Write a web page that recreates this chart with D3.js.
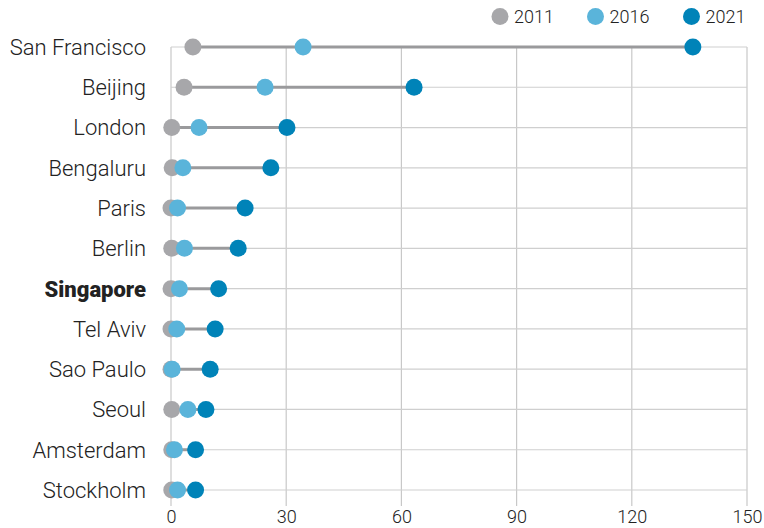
<!DOCTYPE html>
<html><head><meta charset="utf-8">
<script src="https://cdn.jsdelivr.net/npm/d3@7"></script>
<style>body{margin:0;background:#fff;} svg{display:block;font-family:Roboto,"Liberation Sans",sans-serif;}</style>
</head><body><svg id="c" width="764" height="528"></svg>
<script>
const cities = ["San Francisco","Beijing","London","Bengaluru","Paris","Berlin","Singapore","Tel Aviv","Sao Paulo","Seoul","Amsterdam","Stockholm"];
const v2011 = [5.7,3.4,0.2,0.3,0,0.2,0,0,0,0.2,0.2,0.2];
const v2016 = [34.4,24.5,7.3,3.1,1.7,3.5,2.2,1.5,0.3,4.4,0.9,1.7];
const v2021 = [135.9,63.3,30.2,26,19.3,17.5,12.4,11.5,10.2,9.1,6.4,6.4];
const years = ["2011","2016","2021"];
const colors = ["#a7a7aa","#5ab4da","#0083b8"];
const ticks = [0,30,60,90,120,150];

const svg = d3.select("#c");
const x = d3.scaleLinear().domain([0,150]).range([171,747]);
const y = d3.scalePoint().domain(cities).range([47,490]);
const series = [v2011,v2016,v2021];

// vertical grid
svg.append("g").selectAll("line").data(ticks).join("line")
  .attr("x1",d=>x(d)).attr("x2",d=>x(d)).attr("y1",y(cities[0])).attr("y2",506)
  .attr("stroke","#c8c8c8").attr("stroke-width",1.2);
// horizontal grid
svg.append("g").selectAll("line").data(cities).join("line")
  .attr("x1",x(0)).attr("x2",x(150)).attr("y1",d=>y(d)).attr("y2",d=>y(d))
  .attr("stroke","#cfcfcf").attr("stroke-width",1.2);
// connectors
svg.append("g").selectAll("line").data(cities).join("line")
  .attr("x1",(d,i)=>x(Math.min(v2011[i],v2016[i],v2021[i])))
  .attr("x2",(d,i)=>x(Math.max(v2011[i],v2016[i],v2021[i])))
  .attr("y1",d=>y(d)).attr("y2",d=>y(d))
  .attr("stroke","#9a9a9c").attr("stroke-width",3);
// dots
series.forEach((s,k)=>{
  svg.append("g").selectAll("circle").data(cities).join("circle")
    .attr("cx",(d,i)=>x(s[i])).attr("cy",d=>y(d)).attr("r",8.5).attr("fill",colors[k]);
});
// city labels
svg.append("g").selectAll("text").data(cities).join("text")
  .attr("x",146).attr("y",d=>y(d)).attr("dy","0.36em").attr("text-anchor","end")
  .attr("font-size",22).attr("fill","#222")
  .attr("font-weight",d=>d==="Singapore"?900:300)
  .text(d=>d);
// x axis labels
const ax = svg.append("g").attr("transform","translate(0,506)")
  .call(d3.axisBottom(x).tickValues(ticks).tickSize(0).tickFormat(d3.format("d")));
ax.select(".domain").remove();
ax.selectAll("text").attr("y",17).attr("dy",0).attr("font-size",18).attr("font-weight",300).attr("fill","#222").attr("font-family","Roboto,sans-serif");
// legend
const lx = [500,595.5,691.5];
const lg = svg.append("g").selectAll("g").data(years).join("g")
  .attr("transform",(d,i)=>`translate(${lx[i]},16.5)`);
lg.append("circle").attr("r",8.5).attr("fill",(d,i)=>colors[i]);
lg.append("text").attr("x",14).attr("dy","0.36em").attr("font-size",18).attr("font-weight",300).attr("fill","#222").text(d=>d);
</script></body></html>
